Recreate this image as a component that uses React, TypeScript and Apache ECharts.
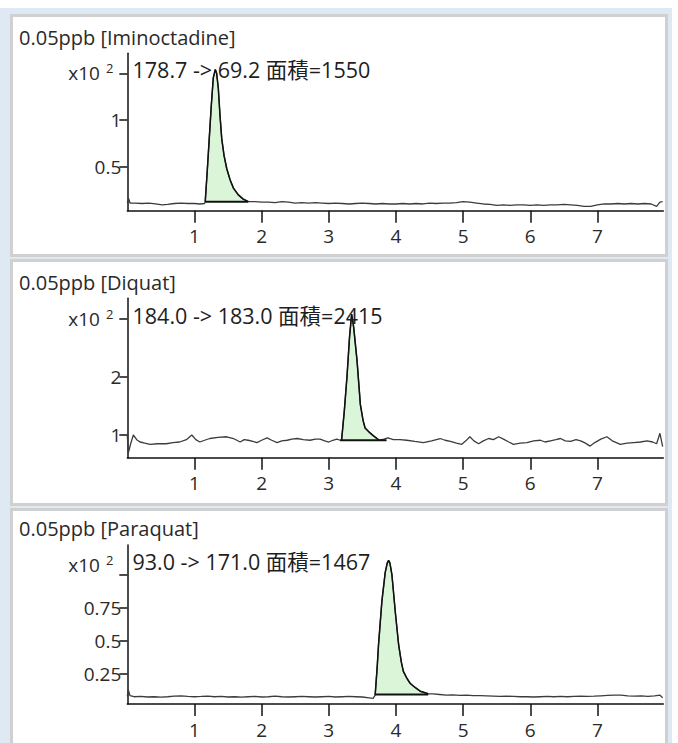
import React, { useEffect, useRef } from "react";
import * as echarts from "echarts";

const FONT = "'Open Sans', 'Noto Sans CJK JP', 'Noto Sans', sans-serif";

// ---------- data ----------
const xTickValues = [1, 2, 3, 4, 5, 6, 7];
const titles = ["0.05ppb [Iminoctadine]", "0.05ppb [Diquat]", "0.05ppb [Paraquat]"];
const transitions = ["178.7 -> 69.2", "184.0 -> 183.0", "93.0 -> 171.0"];
const areaValues = [1550, 2415, 1467];

const yTicks1 = [0.5, 1, 1.5];
const yLabels1 = [0.5, 1];
const yTicks2 = [1, 2, 3];
const yLabels2 = [1, 2];
const yTicks3 = [0.25, 0.5, 0.75, 1];
const yLabels3 = [0.25, 0.5, 0.75];

// Iminoctadine
const pre1 = [
  [0, 0.11], [0.02, 0.16], [0.04, 0.11], [0.12, 0.11], [0.22, 0.105], [0.32, 0.11], [0.42, 0.1],
  [0.52, 0.09], [0.6, 0.095], [0.7, 0.105], [0.8, 0.11], [0.9, 0.105], [1.0, 0.105], [1.08, 0.1],
  [1.15, 0.105],
];
const peak1 = [
  [1.16, 0.124], [1.19, 0.45], [1.22, 0.8], [1.25, 1.15], [1.28, 1.45], [1.31, 1.54], [1.33, 1.5],
  [1.355, 1.34], [1.38, 1.05], [1.406, 0.8], [1.44, 0.62], [1.48, 0.48], [1.53, 0.36], [1.58, 0.27],
  [1.65, 0.2], [1.72, 0.155], [1.8, 0.125],
];
const post1 = [
  [1.9, 0.125], [2.0, 0.12], [2.1, 0.12], [2.2, 0.115], [2.3, 0.125], [2.4, 0.12], [2.5, 0.11],
  [2.6, 0.115], [2.7, 0.11], [2.8, 0.115], [2.9, 0.11], [3.0, 0.105], [3.1, 0.11], [3.2, 0.105],
  [3.3, 0.1], [3.4, 0.105], [3.5, 0.11], [3.6, 0.105], [3.7, 0.1], [3.8, 0.105], [3.9, 0.1],
  [4.0, 0.1], [4.1, 0.105], [4.2, 0.1], [4.3, 0.105], [4.4, 0.1], [4.5, 0.11], [4.6, 0.105],
  [4.7, 0.11], [4.8, 0.11], [4.9, 0.115], [5.0, 0.125], [5.1, 0.12], [5.2, 0.11], [5.3, 0.1],
  [5.4, 0.095], [5.5, 0.085], [5.6, 0.09], [5.7, 0.085], [5.8, 0.09], [5.9, 0.09], [6.0, 0.085],
  [6.1, 0.09], [6.2, 0.085], [6.3, 0.09], [6.4, 0.09], [6.5, 0.095], [6.6, 0.09], [6.7, 0.085],
  [6.8, 0.075], [6.9, 0.075], [7.0, 0.09], [7.1, 0.1], [7.2, 0.1], [7.3, 0.105], [7.4, 0.1],
  [7.5, 0.105], [7.6, 0.1], [7.7, 0.105], [7.8, 0.1], [7.88, 0.075], [7.93, 0.12], [7.97, 0.125],
];
const base1 = [[1.16, 0.124], [1.8, 0.124]];

// Diquat
const pre2 = [
  [0, 1.0], [0.015, 0.69], [0.05, 0.85], [0.09, 1.0], [0.14, 0.92], [0.19, 0.88], [0.26, 0.86],
  [0.34, 0.84], [0.45, 0.85], [0.58, 0.85], [0.68, 0.87], [0.78, 0.88], [0.88, 0.92], [0.96, 1.0],
  [1.02, 0.92], [1.08, 0.88], [1.15, 0.91], [1.23, 0.94], [1.35, 0.96], [1.48, 0.97], [1.58, 0.94],
  [1.68, 0.88], [1.74, 0.92], [1.8, 0.91], [1.87, 0.89], [1.93, 0.87], [2.0, 0.91], [2.08, 0.95],
  [2.15, 0.91], [2.23, 0.87], [2.3, 0.9], [2.38, 0.91], [2.45, 0.93], [2.53, 0.94], [2.62, 0.92],
  [2.72, 0.91], [2.8, 0.93], [2.87, 0.93], [2.94, 0.9], [3.0, 0.88], [3.06, 0.91], [3.12, 0.93],
  [3.17, 0.91],
];
const peak2 = [
  [3.19, 0.91], [3.23, 1.4], [3.27, 1.99], [3.31, 2.7], [3.34, 3.07], [3.37, 2.85], [3.42, 2.28],
  [3.47, 1.52], [3.51, 1.25], [3.54, 1.12], [3.6, 1.05], [3.66, 0.99], [3.75, 0.91],
];
const post2 = [
  [3.82, 0.93], [3.88, 0.95], [3.96, 0.92], [4.06, 0.92], [4.16, 0.91], [4.28, 0.89], [4.41, 0.87],
  [4.53, 0.9], [4.66, 0.94], [4.73, 0.91], [4.81, 0.89], [4.9, 0.86], [4.98, 0.84], [5.04, 0.9],
  [5.1, 0.97], [5.16, 0.9], [5.23, 0.85], [5.3, 0.9], [5.38, 0.94], [5.45, 0.92], [5.53, 0.97],
  [5.6, 0.93], [5.68, 0.88], [5.75, 0.84], [5.85, 0.86], [5.95, 0.87], [6.05, 0.9], [6.15, 0.91],
  [6.22, 0.88], [6.3, 0.9], [6.38, 0.92], [6.45, 0.94], [6.52, 0.9], [6.6, 0.89], [6.68, 0.92],
  [6.75, 0.9], [6.82, 0.86], [6.89, 0.81], [6.96, 0.87], [7.05, 0.93], [7.14, 0.97], [7.22, 0.9],
  [7.34, 0.84], [7.44, 0.86], [7.54, 0.87], [7.64, 0.88], [7.74, 0.9], [7.82, 0.88], [7.88, 0.85],
  [7.93, 1.03], [7.97, 0.8],
];
const base2 = [[3.17, 0.91], [3.86, 0.91]];

// Paraquat
const pre3 = [
  [0, 0.08], [0.015, 0.13], [0.04, 0.086], [0.1, 0.078], [0.2, 0.08], [0.3, 0.076], [0.4, 0.078],
  [0.5, 0.075], [0.6, 0.078], [0.7, 0.082], [0.8, 0.085], [0.9, 0.08], [1.0, 0.078], [1.1, 0.08],
  [1.2, 0.083], [1.3, 0.078], [1.4, 0.08], [1.5, 0.076], [1.6, 0.078], [1.7, 0.075], [1.8, 0.078],
  [1.9, 0.08], [2.0, 0.076], [2.1, 0.078], [2.2, 0.082], [2.3, 0.078], [2.4, 0.076], [2.5, 0.078],
  [2.6, 0.08], [2.7, 0.078], [2.8, 0.076], [2.9, 0.078], [3.0, 0.08], [3.1, 0.076], [3.2, 0.078],
  [3.3, 0.08], [3.4, 0.078], [3.5, 0.076], [3.6, 0.07], [3.66, 0.066],
];
const peak3 = [
  [3.69, 0.09], [3.72, 0.3], [3.74, 0.47], [3.79, 0.8], [3.84, 1.02], [3.87, 1.09], [3.89, 1.11],
  [3.91, 1.09], [3.94, 1.0], [3.99, 0.72], [4.04, 0.47], [4.08, 0.34], [4.11, 0.27], [4.16, 0.22],
  [4.21, 0.18], [4.28, 0.15], [4.36, 0.12], [4.48, 0.1],
];
const post3 = [
  [4.55, 0.1], [4.65, 0.095], [4.75, 0.09], [4.85, 0.092], [4.95, 0.088], [5.05, 0.09], [5.15, 0.086],
  [5.25, 0.086], [5.35, 0.084], [5.45, 0.082], [5.55, 0.08], [5.65, 0.082], [5.75, 0.08], [5.85, 0.078],
  [5.95, 0.078], [6.05, 0.076], [6.15, 0.078], [6.25, 0.08], [6.35, 0.078], [6.45, 0.08], [6.55, 0.078],
  [6.65, 0.08], [6.75, 0.082], [6.85, 0.08], [6.95, 0.082], [7.05, 0.085], [7.15, 0.088], [7.25, 0.09],
  [7.35, 0.09], [7.45, 0.085], [7.55, 0.082], [7.65, 0.084], [7.75, 0.08], [7.85, 0.085], [7.93, 0.09],
  [7.97, 0.07],
];
const base3 = [[3.69, 0.095], [4.48, 0.095]];

// ---------- layout ----------
const GRID_LEFT = 127.3;
const GRID_WIDTH = 536;
const X_MAX = 7.98;

const panels = [
  {
    pre: pre1, peak: peak1, post: post1, base: base1,
    yTicks: yTicks1, yLabels: yLabels1, yMin: 0.028, yMax: 1.714,
    gridTop: 53.3, gridHeight: 157.4,
    box: [11.5, 15.5, 655, 240], titleY: 37, annY: 69, expY: 73,
  },
  {
    pre: pre2, peak: peak2, post: post2, base: base2,
    yTicks: yTicks2, yLabels: yLabels2, yMin: 0.611, yMax: 3.343,
    gridTop: 298.3, gridHeight: 159.4,
    box: [11.5, 260.5, 655, 244], titleY: 282, annY: 315, expY: 319,
  },
  {
    pre: pre3, peak: peak3, post: post3, base: base3,
    yTicks: yTicks3, yLabels: yLabels3, yMin: 0.023, yMax: 1.227,
    gridTop: 545, gridHeight: 159,
    box: [11.5, 509.5, 655, 240], titleY: 528, annY: 561, expY: 565,
  },
];

export default function App() {
  const ref = useRef<HTMLDivElement>(null);

  useEffect(() => {
    if (!ref.current) return;
    const chart = echarts.init(ref.current, null, { renderer: "svg" });

    const grids: any[] = [];
    const xAxes: any[] = [];
    const yAxes: any[] = [];
    const series: any[] = [];
    const graphics: any[] = [
      { type: "rect", silent: true, z: -100, shape: { x: 0, y: 8, width: 672, height: 735 }, style: { fill: "#dfe9f3" } },
    ];

    panels.forEach((p, i) => {
      const [bx, by, bw, bh] = p.box;
      graphics.push({
        type: "rect", silent: true, z: -90,
        shape: { x: bx, y: by, width: bw, height: bh },
        style: { fill: "#ffffff", stroke: "#d0d0d0", lineWidth: 3 },
      });
      graphics.push({
        type: "text", z: 10, x: 19, y: p.titleY,
        style: { text: titles[i], font: `20px ${FONT}`, fill: "#2a2a2a", textVerticalAlign: "middle" },
      });
      graphics.push({
        type: "text", z: 10, x: 132.5, y: p.annY,
        style: { text: `${transitions[i]} 面積=${areaValues[i]}`, font: `21.5px ${FONT}`, fill: "#1e1e1e", textVerticalAlign: "middle" },
      });
      graphics.push({
        type: "text", z: 10, x: 100, y: p.expY,
        style: { text: "x10", font: `19px ${FONT}`, fill: "#2a2a2a", textAlign: "right", textVerticalAlign: "middle" },
      });
      graphics.push({
        type: "text", z: 10, x: 106, y: p.expY - 5,
        style: { text: "2", font: `13px ${FONT}`, fill: "#2a2a2a", textAlign: "left", textVerticalAlign: "middle" },
      });

      grids.push({ left: GRID_LEFT, top: p.gridTop, width: GRID_WIDTH, height: p.gridHeight, containLabel: false });
      xAxes.push({
        type: "value", gridIndex: i, min: 0, max: X_MAX, position: "bottom",
        axisLine: { onZero: false, lineStyle: { color: "#111", width: 1.5 } },
        axisTick: { customValues: xTickValues, length: 12, lineStyle: { color: "#111", width: 1.5 } },
        axisLabel: { customValues: xTickValues, margin: 16, fontSize: 19, fontFamily: FONT, color: "#2a2a2a" },
        splitLine: { show: false },
      });
      yAxes.push({
        type: "value", gridIndex: i, min: p.yMin, max: p.yMax,
        axisLine: { show: true, onZero: false, lineStyle: { color: "#111", width: 1.5 } },
        axisTick: { show: true, customValues: p.yTicks, length: 8, lineStyle: { color: "#111", width: 1.5 } },
        axisLabel: { customValues: p.yLabels, margin: 6, fontSize: 19, fontFamily: FONT, color: "#2a2a2a" },
        splitLine: { show: false },
      });

      series.push({
        type: "line", xAxisIndex: i, yAxisIndex: i, data: p.peak, showSymbol: false, z: 1,
        lineStyle: { width: 0 },
        areaStyle: { color: "#dbf5d8", opacity: 1, origin: p.base[0][1] },
      });
      series.push({
        type: "line", xAxisIndex: i, yAxisIndex: i, data: [...p.pre, ...p.peak, ...p.post], showSymbol: false, z: 2,
        lineStyle: { color: "#3c3c3c", width: 1.3 },
      });
      series.push({
        type: "line", xAxisIndex: i, yAxisIndex: i, data: p.peak, showSymbol: false, z: 3,
        lineStyle: { color: "#111", width: 1.5 },
      });
      series.push({
        type: "line", xAxisIndex: i, yAxisIndex: i, data: p.base, showSymbol: false, z: 3,
        lineStyle: { color: "#111", width: 1.8 },
      });
    });

    chart.setOption({
      animation: false,
      backgroundColor: "#ffffff",
      grid: grids,
      xAxis: xAxes,
      yAxis: yAxes,
      series,
      graphic: { elements: graphics },
    });

    return () => chart.dispose();
  }, []);

  return (
    <div
      ref={ref}
      style={{ position: "fixed", left: 0, top: 0, width: 678, height: 743 }}
    />
  );
}
